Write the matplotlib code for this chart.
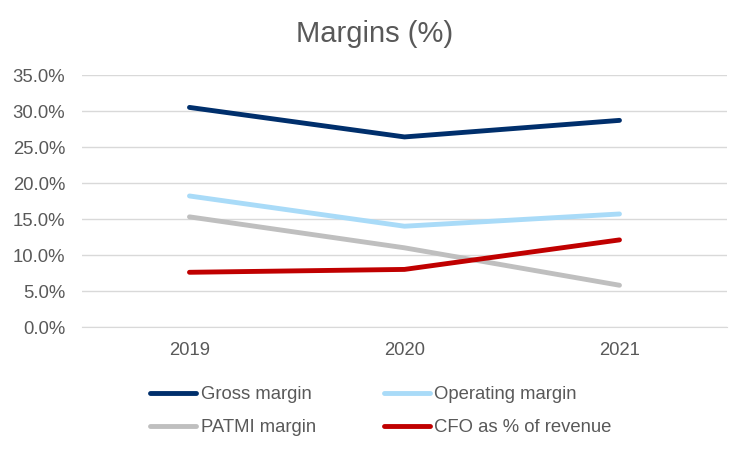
import matplotlib.pyplot as plt
from matplotlib.ticker import PercentFormatter

plt.rcParams['font.family'] = ['Liberation Sans', 'DejaVu Sans']

years = ["2019", "2020", "2021"]
gross_margin = [30.5, 26.4, 28.7]
operating_margin = [18.2, 14.0, 15.7]
patmi_margin = [15.3, 11.0, 5.8]
cfo_revenue = [7.6, 8.0, 12.1]

series = [
    ("Gross margin", gross_margin, "#002F6C"),
    ("Operating margin", operating_margin, "#A9DBF8"),
    ("PATMI margin", patmi_margin, "#BFBFBF"),
    ("CFO as % of revenue", cfo_revenue, "#C00000"),
]

text_color = "#595959"

fig = plt.figure(figsize=(7.5, 4.5), dpi=100)
ax = fig.add_axes([0.1093, 0.2733, 0.86, 0.56])

x = range(len(years))
lines = {}
for name, vals, color in series:
    lines[name], = ax.plot(x, vals, color=color, linewidth=3.5, label=name,
                           solid_capstyle='round')

ax.set_xlim(-0.5, 2.5)
ax.set_ylim(0, 35)
ax.set_yticks([0, 5, 10, 15, 20, 25, 30, 35])
ax.yaxis.set_major_formatter(PercentFormatter(decimals=1))
ax.set_xticks(list(x))
ax.set_xticklabels(years)
ax.grid(axis='y', color='#D9D9D9', linewidth=1)
ax.set_axisbelow(True)
for s in ['top', 'right', 'left']:
    ax.spines[s].set_visible(False)
ax.spines['bottom'].set_color('#D9D9D9')
ax.tick_params(length=0, labelsize=13.3, colors=text_color, pad=12)
ax.tick_params(axis='x', pad=11)

fig.suptitle("Margins (%)", fontsize=21, color=text_color, y=0.955)

# legend fills column by column, so order to get rows: Gross/Operating, PATMI/CFO
order = ["Gross margin", "PATMI margin", "Operating margin", "CFO as % of revenue"]
leg = fig.legend([lines[n] for n in order], order, loc='lower center', ncol=2,
                 bbox_to_anchor=(0.508, -0.006), frameon=False, fontsize=13.3,
                 handlelength=2.5, handletextpad=0.25, columnspacing=3.65,
                 labelspacing=0.85)
for t in leg.get_texts():
    t.set_color(text_color)

fig.savefig("out.png", dpi=100)
